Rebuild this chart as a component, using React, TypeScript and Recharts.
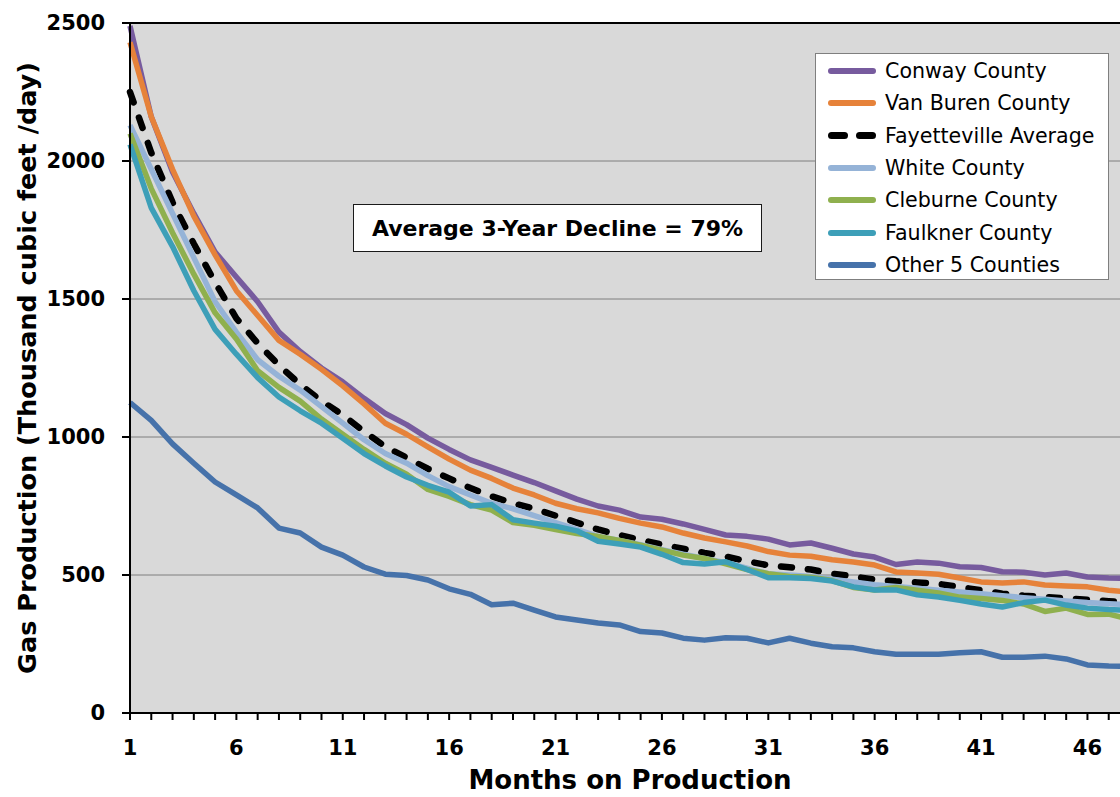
import React from "react";
import { LineChart, Line, XAxis, YAxis, CartesianGrid, ReferenceLine } from "recharts";

const FONT = "'DejaVu Sans', Arial, sans-serif";

const months = [
  1, 2, 3, 4, 5, 6, 7, 8, 9, 10, 11, 12, 13, 14, 15, 16, 17, 18, 19, 20, 21, 22, 23, 24,
  25, 26, 27, 28, 29, 30, 31, 32, 33, 34, 35, 36, 37, 38, 39, 40, 41, 42, 43, 44, 45, 46, 47, 48,
];
const xTickLabels = [1, 6, 11, 16, 21, 26, 31, 36, 41, 46];
const yTicks = [0, 500, 1000, 1500, 2000, 2500];

const conway = [
  2490, 2160, 1960, 1810, 1670, 1580, 1490, 1380, 1310, 1250,
  1200, 1140, 1085, 1045, 996, 955, 917, 890, 862, 835,
  805, 775, 750, 735, 710, 702, 685, 665, 645, 640,
  630, 609, 616, 597, 576, 565, 538, 547, 543, 530,
  527, 512, 510, 500, 507, 493, 489, 487,
];
const vanBuren = [
  2430, 2160, 1970, 1800, 1660, 1530, 1440, 1350, 1300, 1245,
  1185, 1120, 1050, 1010, 964, 920, 880, 850, 815, 790,
  760, 740, 725, 705, 688, 674, 652, 634, 620, 605,
  585, 572, 568, 555, 547, 536, 511, 507, 503, 489,
  475, 471, 475, 464, 460, 457, 445, 437,
];
const fayetteville = [
  2250, 2030, 1850, 1700, 1560, 1430, 1340, 1260, 1190, 1130,
  1080, 1020, 965, 925, 885, 850, 815, 785, 760, 740,
  715, 690, 665, 645, 627, 610, 595, 580, 567, 550,
  535, 528, 520, 505, 495, 483, 477, 473, 468, 456,
  445, 432, 425, 420, 415, 410, 405, 400,
];
const white = [
  2130, 1970, 1810, 1650, 1490, 1380, 1280, 1220, 1170, 1110,
  1050, 990, 940, 905, 860, 820, 790, 760, 740, 715,
  690, 665, 640, 625, 610, 592, 575, 560, 545, 525,
  505, 500, 495, 485, 475, 465, 458, 452, 445, 438,
  432, 425, 418, 412, 406, 400, 396, 392,
];
const cleburne = [
  2100, 1900, 1740, 1590, 1450, 1355, 1240, 1180, 1130, 1065,
  1010, 955, 905, 865, 810, 785, 755, 735, 690, 680,
  665, 650, 640, 625, 608, 590, 572, 560, 540, 520,
  505, 495, 492, 480, 455, 446, 455, 445, 435, 420,
  415, 408, 395, 368, 380, 357, 358, 340,
];
const faulkner = [
  2060, 1830, 1690, 1530, 1390, 1300, 1215, 1145, 1095, 1050,
  995, 940, 895, 855, 825, 800, 750, 755, 700, 688,
  677, 660, 622, 612, 601, 575, 545, 540, 548, 520,
  490, 490, 487, 478, 457, 446, 446, 428, 420, 408,
  395, 384, 400, 409, 391, 380, 375, 372,
];
const otherFive = [
  1125, 1060, 975, 905, 837, 790, 743, 670, 652, 601,
  572, 529, 503, 498, 482, 450, 430, 392, 398, 373,
  348, 337, 326, 319, 295, 290, 271, 264, 273, 271,
  254, 271, 253, 240, 236, 222, 213, 213, 213, 218,
  222, 202, 202, 206, 196, 174, 170, 168,
];

const series = [
  { key: "conway", name: "Conway County", color: "#775b9e", values: conway, dashed: false },
  { key: "vanBuren", name: "Van Buren County", color: "#e6823a", values: vanBuren, dashed: false },
  { key: "fayetteville", name: "Fayetteville Average", color: "#000000", values: fayetteville, dashed: true },
  { key: "white", name: "White County", color: "#95b3d7", values: white, dashed: false },
  { key: "cleburne", name: "Cleburne County", color: "#8fb04e", values: cleburne, dashed: false },
  { key: "faulkner", name: "Faulkner County", color: "#3d9fb8", values: faulkner, dashed: false },
  { key: "otherFive", name: "Other 5 Counties", color: "#4672aa", values: otherFive, dashed: false },
];

const data = months.map((m, i) => {
  const row: Record<string, number> = { month: m };
  series.forEach((s) => {
    row[s.key] = s.values[i];
  });
  return row;
});

const tickStyle = { fill: "#000", fontSize: 21, fontWeight: 700, fontFamily: FONT };

function YTitle(props: any) {
  const vb = props.viewBox || { x: 0, y: 23, width: 130, height: 690 };
  const cx = 27;
  const cy = vb.y + vb.height / 2;
  return (
    <text
      x={cx}
      y={cy}
      transform={`rotate(-90 ${cx} ${cy})`}
      textAnchor="middle"
      dominantBaseline="central"
      fontFamily={FONT}
      fontWeight={700}
      fontSize={25.5}
      fill="#000"
    >
      Gas Production (Thousand cubic feet /day)
    </text>
  );
}

function XTitle(props: any) {
  const vb = props.viewBox || { x: 130, y: 713, width: 1000, height: 84 };
  return (
    <text
      x={vb.x + vb.width / 2}
      y={789}
      textAnchor="middle"
      fontFamily={FONT}
      fontWeight={700}
      fontSize={26}
      fill="#000"
    >
      Months on Production
    </text>
  );
}

function LegendBox() {
  return (
    <div
      style={{
        position: "absolute",
        left: 815,
        top: 53,
        width: 292,
        height: 224,
        border: "1px solid #7f7f7f",
        background: "#fff",
        paddingTop: 1,
        boxSizing: "content-box",
      }}
    >
      {series.map((s) => (
        <div
          key={s.key}
          style={{ height: 32.3, display: "flex", alignItems: "center", paddingLeft: 12 }}
        >
          {s.dashed ? (
            <div style={{ width: 48, display: "flex", justifyContent: "space-between" }}>
              <div style={{ width: 20, height: 7, borderRadius: 4, background: s.color }} />
              <div style={{ width: 20, height: 7, borderRadius: 4, background: s.color }} />
            </div>
          ) : (
            <div style={{ width: 48, height: 6, borderRadius: 3, background: s.color }} />
          )}
          <span
            style={{
              marginLeft: 9,
              fontFamily: FONT,
              fontSize: 20.6,
              color: "#000",
              whiteSpace: "nowrap",
            }}
          >
            {s.name}
          </span>
        </div>
      ))}
    </div>
  );
}

export default function App() {
  return (
    <div style={{ position: "relative", width: 1120, height: 797, overflow: "hidden", background: "#fff" }}>
      <style>{`body{margin:0}`}</style>
      <LineChart width={1140} height={797} data={data} margin={{ top: 23, right: 10, left: 0, bottom: 0 }}>
        <CartesianGrid vertical={false} stroke="#7f7f7f" fill="#d9d9d9" />
        <XAxis
          dataKey="month"
          type="number"
          domain={[1, 48]}
          ticks={months}
          interval={0}
          tickFormatter={(v: number) => (xTickLabels.includes(v) ? String(v) : "")}
          height={84}
          tickSize={7}
          tickMargin={20}
          axisLine={{ stroke: "#000", strokeWidth: 2 }}
          tickLine={{ stroke: "#000", strokeWidth: 2 }}
          tick={tickStyle}
          label={{ content: (p: any) => <XTitle {...p} /> }}
        />
        <YAxis
          domain={[0, 2500]}
          ticks={yTicks}
          interval={0}
          width={130}
          tickSize={8}
          tickMargin={17}
          axisLine={{ stroke: "#000", strokeWidth: 2 }}
          tickLine={{ stroke: "#000", strokeWidth: 2 }}
          tick={tickStyle}
          label={{ content: (p: any) => <YTitle {...p} /> }}
        />
        <ReferenceLine y={2500} stroke="#000" strokeWidth={2} />
        {series.map((s) => (
          <Line
            key={s.key}
            type="linear"
            dataKey={s.key}
            name={s.name}
            stroke={s.color}
            strokeWidth={s.dashed ? 6.5 : 5.5}
            strokeDasharray={s.dashed ? "11 16" : undefined}
            strokeLinecap={s.dashed ? "round" : "butt"}
            strokeLinejoin="round"
            dot={false}
            isAnimationActive={false}
          />
        ))}
      </LineChart>
      <LegendBox />
      <div
        style={{
          position: "absolute",
          left: 353,
          top: 204,
          width: 407,
          height: 46,
          border: "1.5px solid #1a1a1a",
          background: "#fff",
          display: "flex",
          alignItems: "center",
          justifyContent: "center",
          fontFamily: FONT,
          fontWeight: 700,
          fontSize: 22,
          color: "#000",
        }}
      >
        Average 3-Year Decline = 79%
      </div>
    </div>
  );
}
